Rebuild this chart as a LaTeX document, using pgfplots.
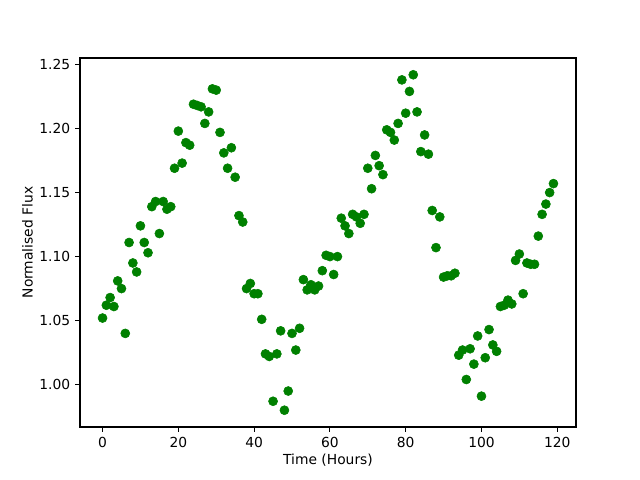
\documentclass[border=0pt]{standalone}
\usepackage{pgfplots}
\pgfplotsset{compat=1.18}
\usepackage{fontspec}
\setmainfont{DejaVu Sans}
\definecolor{mplgreen}{HTML}{008000}
\begin{document}
\fontsize{10}{12}\selectfont
\begin{tikzpicture}
\path[use as bounding box] (-57.6bp,-38.16bp) rectangle (403.2bp,307.44bp);
\begin{axis}[
  at={(0,0)}, anchor=south west,
  scale only axis, width=357.12bp, height=265.68bp,
  xmin=-5.95, xmax=124.95, ymin=0.9669, ymax=1.2551,
  xtick={0,20,40,60,80,100,120},
  ytick={1.00,1.05,1.10,1.15,1.20,1.25},
  yticklabel style={/pgf/number format/.cd, fixed, fixed zerofill, precision=2},
  /pgf/number format/assume math mode=true,
  tick align=outside, tick pos=left,
  major tick length=3.5bp,
  tick style={black, line width=0.8bp},
  axis line style={line width=0.8bp},
  xlabel={Time (Hours)}, ylabel={Normalised Flux},
  xlabel style={yshift=2pt},
  ylabel style={yshift=-2pt},
  every tick label/.append style={font=\fontsize{10}{12}\selectfont},
]
\addplot[only marks, mark=*, mark size=3.25bp, color=mplgreen, mark options={draw=mplgreen, fill=mplgreen}] coordinates {
(0,1.052)(1,1.062)(2,1.068)(3,1.061)(4,1.081)(5,1.075)(6,1.040)(7,1.111)(8,1.095)(9,1.088)
(10,1.124)(11,1.111)(12,1.103)(13,1.139)(14,1.143)(15,1.118)(16,1.143)(17,1.137)(18,1.139)(19,1.169)
(20,1.198)(21,1.173)(22,1.189)(23,1.187)(24,1.219)(25,1.218)(26,1.217)(27,1.204)(28,1.213)(29,1.231)
(30,1.230)(31,1.197)(32,1.181)(33,1.169)(34,1.185)(35,1.162)(36,1.132)(37,1.127)(38,1.075)(39,1.079)
(40,1.071)(41,1.071)(42,1.051)(43,1.024)(44,1.022)(45,0.987)(46,1.024)(47,1.042)(48,0.980)(49,0.995)
(50,1.040)(51,1.027)(52,1.044)(53,1.082)(54,1.074)(55,1.078)(56,1.074)(57,1.077)(58,1.089)(59,1.101)
(60,1.100)(61,1.086)(62,1.100)(63,1.130)(64,1.124)(65,1.118)(66,1.133)(67,1.131)(68,1.126)(69,1.133)
(70,1.169)(71,1.153)(72,1.179)(73,1.171)(74,1.164)(75,1.199)(76,1.197)(77,1.191)(78,1.204)(79,1.238)
(80,1.212)(81,1.229)(82,1.242)(83,1.213)(84,1.182)(85,1.195)(86,1.180)(87,1.136)(88,1.107)(89,1.131)
(90,1.084)(91,1.085)(92,1.085)(93,1.087)(94,1.023)(95,1.027)(96,1.004)(97,1.028)(98,1.016)(99,1.038)
(100,0.991)(101,1.021)(102,1.043)(103,1.031)(104,1.026)(105,1.061)(106,1.062)(107,1.066)(108,1.063)(109,1.097)
(110,1.102)(111,1.071)(112,1.095)(113,1.094)(114,1.094)(115,1.116)(116,1.133)(117,1.141)(118,1.150)(119,1.157)
};
\end{axis}
\end{tikzpicture}
\end{document}
